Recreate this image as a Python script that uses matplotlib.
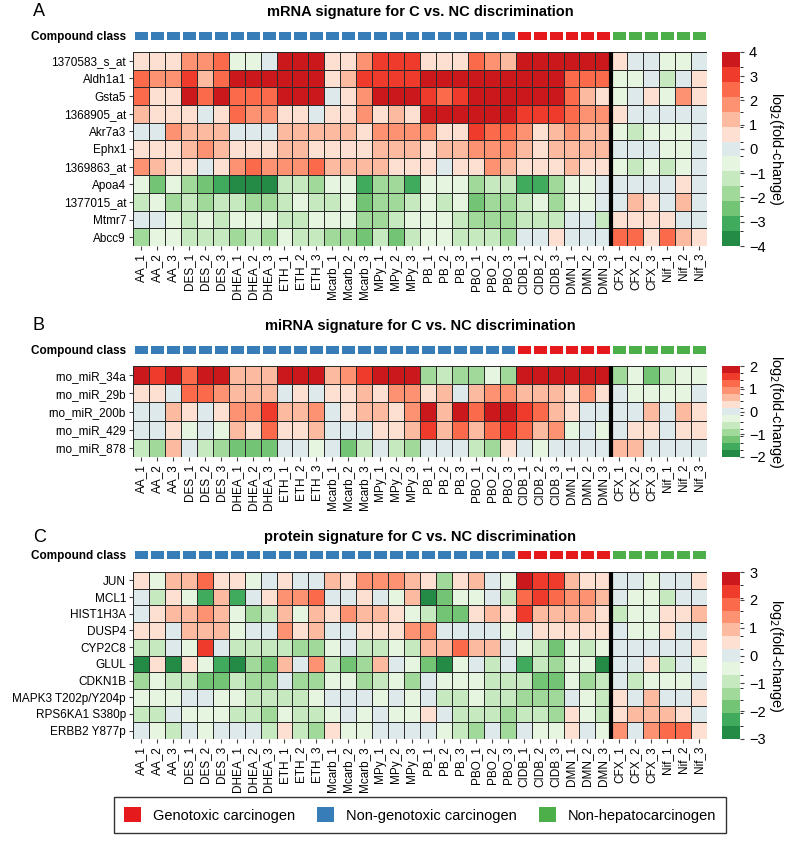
import numpy as np
import matplotlib
matplotlib.use("Agg")
import matplotlib.pyplot as plt
from matplotlib.colors import ListedColormap, BoundaryNorm
from matplotlib.patches import Patch

plt.rcParams['font.family'] = ['Liberation Sans', 'DejaVu Sans']

# compounds (3 replicates each) and their class
compounds = ['AA', 'DES', 'DHEA', 'ETH', 'Mcarb', 'MPy', 'PB', 'PBO',
             'CIDB', 'DMN', 'CFX', 'Nif']
compound_class = ['NGC', 'NGC', 'NGC', 'NGC', 'NGC', 'NGC', 'NGC', 'NGC',
                  'GC', 'GC', 'NHC', 'NHC']
samples = [c + '_' + str(r) for c in compounds for r in (1, 2, 3)]
sample_class = [k for k in compound_class for r in (1, 2, 3)]

class_names = ['Genotoxic carcinogen', 'Non-genotoxic carcinogen', 'Non-hepatocarcinogen']
class_keys = ['GC', 'NGC', 'NHC']
class_colors = ['#e41a1c', '#377eb8', '#4daf4a']

# panel A: mRNA log2 fold-change
mrna_genes = ['1370583_s_at', 'Aldh1a1', 'Gsta5', '1368905_at', 'Akr7a3', 'Ephx1',
              '1369863_at', 'Apoa4', '1377015_at', 'Mtmr7', 'Abcc9']
mrna_fc = [
    [0.6,0.6,0.6,1.8,1.8,2.5,-0.6,-0.6,0.0,3.7,3.7,3.7,0.6,0.6,1.8,3.1,3.1,3.1,0.6,0.6,0.6,2.5,1.8,1.2,3.7,3.7,3.7,3.7,3.7,3.7,0.6,0.0,0.0,-0.6,-0.6,0.0],
    [2.5,1.8,1.8,3.1,1.2,2.5,3.7,3.7,3.7,3.7,3.7,3.7,0.6,1.2,3.1,3.1,3.1,3.1,3.7,3.7,3.7,3.7,3.7,3.7,3.7,3.7,3.7,2.5,2.5,2.5,-0.6,-0.6,0.0,-1.2,0.0,0.6],
    [2.5,0.6,0.6,3.7,2.5,3.7,2.5,2.5,2.5,3.7,3.7,3.7,0.0,0.6,1.8,3.7,3.7,3.7,3.1,2.5,3.1,3.7,3.7,3.7,3.7,3.7,3.7,2.5,1.2,0.6,-0.6,0.0,0.6,-0.6,1.8,0.6],
    [1.2,0.6,0.6,0.6,0.0,0.6,2.5,1.8,1.8,0.6,0.6,0.0,0.6,0.6,1.8,0.6,1.2,0.6,3.7,3.7,3.7,3.7,3.7,3.7,3.1,3.1,3.1,2.5,1.8,1.8,0.6,0.0,0.0,0.0,0.0,0.0],
    [0.0,0.0,1.8,1.2,1.2,1.2,0.0,0.0,0.0,1.2,1.2,1.2,1.2,1.2,0.6,1.8,1.8,1.8,1.8,0.6,0.6,3.1,2.5,2.5,1.8,0.6,1.2,1.8,1.2,1.2,-0.6,-1.2,-0.6,-0.6,-0.6,0.0],
    [0.6,0.6,0.6,1.2,1.8,1.2,0.6,0.6,0.6,1.2,1.2,0.6,0.6,0.6,0.6,1.2,1.2,1.2,0.6,1.2,1.2,1.8,1.8,1.8,1.2,0.6,1.2,1.2,1.2,1.2,0.0,0.0,0.0,-0.6,-0.6,0.0],
    [1.8,1.2,0.6,0.6,0.0,0.6,1.8,2.5,1.8,1.8,1.8,2.5,1.2,1.2,1.2,1.2,0.6,0.6,0.6,0.0,0.6,0.6,1.8,1.2,0.6,0.6,0.6,1.2,0.6,0.6,-0.6,-1.2,-0.6,-1.2,-0.6,0.0],
    [-0.6,-2.5,-0.6,-1.8,-2.5,-3.1,-3.7,-3.7,-3.7,-1.2,-1.2,-1.8,-0.6,-0.6,-3.1,-1.8,-1.8,-3.1,-0.6,-0.6,-0.6,-1.8,-1.2,-1.2,-3.1,-3.1,-1.8,-0.6,-0.6,0.0,0.0,0.0,0.0,0.0,0.6,0.0],
    [-1.2,-0.6,-1.8,-1.2,-1.8,-1.2,-1.2,-1.8,-1.8,-1.2,-0.6,-1.2,-1.2,-0.6,-2.5,-1.8,-1.8,-1.2,-0.6,-1.2,-0.6,-2.5,-1.8,-1.8,-1.2,-0.6,-1.8,-0.6,-0.6,0.0,0.0,1.2,0.6,0.0,1.2,0.0],
    [0.0,0.0,-0.6,-1.2,-0.6,-1.2,-0.6,-0.6,-0.6,-1.2,-1.2,-0.6,-0.6,-0.6,-1.8,-1.8,-1.2,-0.6,-0.6,-0.6,-1.2,-1.8,-1.8,-1.8,-1.2,-1.2,-1.2,0.0,0.0,-1.2,0.6,0.6,0.6,0.6,0.0,0.0],
    [-1.8,-0.6,-0.6,-1.2,-1.2,-1.2,-1.8,-1.2,-1.8,-0.6,-1.2,-1.2,-1.8,-1.8,-2.5,-1.2,-2.5,-1.2,-0.6,-0.6,-1.2,-1.2,-1.2,-1.8,0.0,0.0,0.6,0.0,0.0,0.0,2.5,2.5,0.6,2.5,1.2,0.6],
]

# panel B: miRNA log2 fold-change
mirna_names = ['rno_miR_34a', 'rno_miR_29b', 'rno_miR_200b', 'rno_miR_429', 'rno_miR_878']
mirna_fc = [
    [1.85,1.5,1.85,1.2,1.85,1.85,0.6,0.6,0.6,1.85,1.85,1.85,0.6,0.9,1.5,1.85,1.85,1.85,-0.9,-0.6,-0.9,-0.9,-0.3,-0.9,1.85,1.85,1.85,1.85,1.85,1.85,-0.9,-0.3,-1.2,-0.6,-0.3,-0.3],
    [0.3,0.3,0.0,1.2,1.2,0.9,0.6,0.6,0.6,0.0,0.3,0.0,0.3,0.3,0.6,0.3,0.9,0.9,0.3,0.6,0.0,0.6,0.9,0.9,0.6,0.6,0.6,0.3,0.9,0.3,0.0,-0.3,-0.3,-0.3,-0.3,0.0],
    [0.0,0.0,0.6,0.3,0.0,0.3,0.9,0.9,1.5,0.6,0.6,0.9,0.0,0.3,0.6,0.6,0.3,0.9,1.85,0.6,1.85,1.2,1.85,1.85,1.5,1.2,0.6,0.3,0.0,0.0,0.0,0.0,0.6,0.0,0.6,0.3],
    [0.0,0.0,0.3,-0.3,0.0,-0.3,0.6,0.3,1.2,0.3,0.3,0.6,0.0,0.0,0.0,0.3,0.3,0.6,1.5,0.6,1.2,0.6,1.2,1.5,1.2,0.6,0.9,-0.3,0.0,-0.3,0.0,0.3,0.3,0.0,0.3,0.3],
    [-0.6,-0.9,0.6,0.0,-0.6,-0.9,-1.2,-1.2,-1.2,0.0,0.0,-0.3,0.0,-1.2,-0.6,0.0,-0.6,-0.9,0.0,0.0,0.0,-0.6,-0.9,0.3,0.0,-0.3,0.0,0.0,0.0,0.0,0.6,0.6,0.0,0.0,0.0,0.0],
]

# panel C: protein log2 fold-change
protein_names = ['JUN', 'MCL1', 'HIST1H3A', 'DUSP4', 'CYP2C8', 'GLUL', 'CDKN1B',
                 'MAPK3 T202p/Y204p', 'RPS6KA1 S380p', 'ERBB2 Y877p']
protein_fc = [
    [0.5,-0.5,0.9,0.9,1.8,0.5,0.5,-0.5,0.0,0.5,0.0,0.0,0.9,0.5,1.4,1.4,1.4,0.9,0.5,-1.4,0.5,0.9,0.0,-0.5,2.8,2.3,2.3,0.9,0.5,0.5,0.0,0.0,-0.5,0.0,0.0,0.5],
    [0.0,-0.9,0.5,-0.5,-2.3,0.9,-2.3,0.0,0.5,1.4,1.4,1.8,0.0,0.0,0.5,0.0,-0.5,0.9,-2.8,-1.8,-0.5,-0.5,0.0,-0.9,1.8,2.3,1.8,1.4,1.4,0.9,0.0,-0.5,-0.5,-0.9,0.0,0.0],
    [0.0,0.5,0.9,0.9,1.4,0.9,-0.5,-1.4,-0.9,0.9,-0.5,0.9,0.5,1.4,0.9,0.9,0.5,-0.5,-0.9,-1.8,-1.8,0.5,0.9,0.5,2.3,0.9,0.9,0.9,0.9,0.5,-0.9,-0.5,-0.5,0.5,0.5,0.9],
    [0.5,0.5,0.0,0.9,0.9,0.9,-0.5,0.0,0.0,1.4,0.5,0.9,0.0,0.0,0.5,0.5,0.5,1.4,1.4,0.0,0.0,0.0,0.0,-0.5,0.0,0.5,0.5,0.5,0.5,0.5,0.0,-0.5,-0.5,0.5,0.0,0.0],
    [-0.9,-0.9,0.0,-0.5,2.3,0.0,-0.9,-0.9,-0.9,-0.9,-1.4,-1.4,-0.5,0.0,-0.9,-0.9,-0.5,-0.9,0.9,0.9,1.8,0.9,0.9,0.0,-0.5,-0.9,-1.8,-0.5,-0.9,-0.5,0.0,0.0,0.0,0.0,0.0,0.5],
    [-2.8,0.5,-2.8,0.5,-0.5,-2.3,-2.8,-1.4,-1.8,0.9,0.0,1.4,-0.9,-1.8,-1.4,0.9,0.0,-0.5,-1.8,-2.8,-0.5,0.0,-0.9,0.0,-2.3,-0.9,-1.4,-0.5,-0.5,-2.8,0.0,0.0,0.5,-0.9,0.0,-0.5],
    [-1.4,-0.5,-0.9,-0.9,-1.8,-1.8,-0.9,-1.4,-1.4,0.0,-1.4,-1.4,-0.5,-0.5,-1.4,-0.9,-0.5,-1.4,0.0,-0.5,-0.5,-0.5,-0.9,-0.9,-0.9,-1.8,-1.8,-0.5,-1.4,-0.9,0.0,-0.9,-0.5,-0.5,-0.5,0.0],
    [-0.5,-0.5,-0.5,0.0,0.0,-0.5,-0.5,-0.9,-0.9,-0.9,-0.9,-0.5,0.0,0.0,0.0,-0.5,0.0,-0.5,0.0,-0.9,-0.9,-0.5,-0.9,-0.9,-1.4,-1.4,-1.4,0.0,-0.5,-0.9,0.5,0.0,0.9,0.0,0.0,0.5],
    [-0.9,-0.9,0.0,-0.5,-0.5,-0.5,-0.9,-0.9,-1.4,-0.5,-0.9,-0.9,-0.5,0.0,-0.5,0.0,-0.5,-0.5,0.5,0.0,-0.9,-0.9,-0.9,-1.4,-0.9,-0.9,-1.4,0.5,-0.5,-0.9,0.5,0.9,0.9,0.9,0.5,0.0],
    [0.0,-0.5,-0.9,0.0,-0.5,0.0,0.0,0.0,-0.9,0.5,-0.9,-1.4,0.5,-0.5,-0.5,0.0,0.0,0.0,0.0,-0.5,-0.9,-1.4,0.0,-1.4,0.0,-0.5,-0.5,0.5,0.0,-0.5,1.4,0.0,1.4,1.8,1.8,0.5],
]

heat_colors = ['#238b45', '#41ab5d', '#74c476', '#a1d99b', '#c7e9c0', '#e5f5e0', '#dde9ea',
               '#fee0d2', '#fcbba1', '#fc9272', '#fb6a4a', '#ef3b2c', '#cb181d']
heat_cmap = ListedColormap(heat_colors)

W, H = 787, 843
fig = plt.figure(figsize=(W / 100, H / 100), dpi=100)


def px_axes(x0, y0, x1, y1):
    return fig.add_axes([x0 / W, 1 - y1 / H, (x1 - x0) / W, (y1 - y0) / H])


X0, X1 = 133, 707
n = len(samples)


def draw_panel(letter, title, names, data, vmax, y_title, y_class, y_heat):
    fig.text(33 / W, 1 - y_title / H, letter, fontsize=13, va='center', ha='left')
    fig.text((X0 + X1) / 2 / W, 1 - y_title / H, title, fontsize=10.5,
             fontweight='bold', va='center', ha='center')

    # compound class bar
    axc = px_axes(X0, y_class, X1, y_class + 11)
    cls_idx = np.array([[class_keys.index(k) for k in sample_class]])
    axc.pcolormesh(cls_idx, cmap=ListedColormap(class_colors), vmin=-0.5, vmax=2.5,
                   edgecolors='white', linewidth=1)
    axc.set_xlim(0, n)
    axc.set_xticks([])
    axc.set_yticks([0.5])
    axc.set_yticklabels(['Compound class'], fontsize=8.5, fontweight='bold')
    axc.tick_params(axis='y', length=0, pad=5)
    for s in axc.spines.values():
        s.set_visible(False)

    # heatmap
    ax = px_axes(X0, y_heat[0], X1, y_heat[1])
    bounds = np.linspace(-vmax, vmax, 14)
    norm = BoundaryNorm(bounds, heat_cmap.N)
    arr = np.array(data)
    mesh = ax.pcolormesh(arr, cmap=heat_cmap, norm=norm, edgecolors='#2a2a2a', linewidth=0.7)
    ax.axvline(30, color='black', lw=3)
    ax.set_xlim(0, n)
    ax.set_ylim(len(names), 0)
    ax.set_yticks(np.arange(len(names)) + 0.5)
    ax.set_yticklabels(names, fontsize=8.5)
    ax.set_xticks(np.arange(n) + 0.5)
    ax.set_xticklabels(samples, fontsize=8.5, rotation=90)
    ax.tick_params(length=3, width=0.8, pad=2, color='#444444')
    for s in ax.spines.values():
        s.set_visible(False)

    # colour key
    cax = px_axes(722, y_heat[0], 740, y_heat[1])
    cb = fig.colorbar(mesh, cax=cax, ticks=np.arange(-vmax, vmax + 1))
    cb.outline.set_visible(False)
    cb.ax.tick_params(labelsize=10.5, length=3, color='#444444')
    cb.ax.set_yticklabels([str(int(t)).replace('-', '\u2212') for t in np.arange(-vmax, vmax + 1)])
    cb.set_label(r'log$_2$(fold-change)', rotation=270, fontsize=10.5, labelpad=14)


draw_panel('A', 'mRNA signature for C vs. NC discrimination', mrna_genes, mrna_fc, 4,
           12, 30, (52, 246))
draw_panel('B', 'miRNA signature for C vs. NC discrimination', mirna_names, mirna_fc, 2,
           326, 344, (366, 457))
draw_panel('C', 'protein signature for C vs. NC discrimination', protein_names, protein_fc, 3,
           537, 549, (572, 739))

handles = [Patch(facecolor=c, edgecolor='none') for c in class_colors]
fig.legend(handles, class_names, ncol=3, loc='center', bbox_to_anchor=(420 / W, 1 - 815 / H),
           frameon=True, fancybox=False, edgecolor='black', fontsize=10.5,
           handlelength=1.2, handleheight=1.2, handletextpad=0.8, columnspacing=1.5,
           borderpad=0.7)

fig.savefig('out.png', dpi=100)
